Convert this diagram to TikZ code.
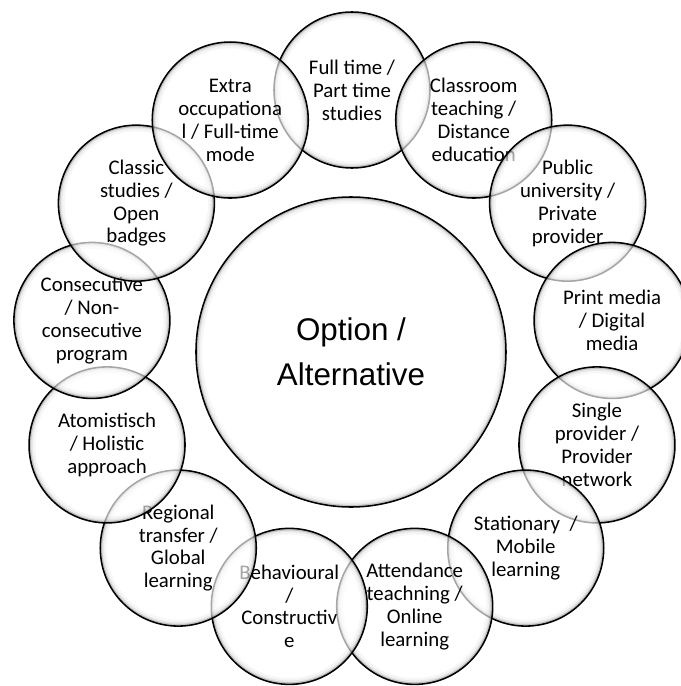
\documentclass[tikz,border=0pt]{standalone}
\usepackage{fontspec}
\setmainfont{Carlito}
\newfontfamily\arialfont{Liberation Sans}

\tikzset{
  glass/.style={circle, draw=black, line width=1.1pt, fill=white, fill opacity=0.65,
    text opacity=1, inner sep=0pt, align=center, minimum size=2*#1*0.025cm,
    path picture={
      \draw[black, opacity=0.16, line width=3pt] (path picture bounding box.center) circle (#1);
      \draw[black, opacity=0.06, line width=5.5pt] (path picture bounding box.center) circle (#1);
      \draw[black, opacity=0.03, line width=9pt] (path picture bounding box.center) circle (#1);
    }},
  optbubble/.style={glass=78, font=\fontsize{14.8}{16.3}\selectfont},
  mainbubble/.style={glass=155, font=\arialfont\fontsize{22.3}{32}\selectfont},
}

\begin{document}
\begin{tikzpicture}[x=0.025cm, y=0.025cm]
\useasboundingbox (-352,-334) rectangle (329,352);
\clip (-352,-334) rectangle (329,352);
% outer ring, clockwise from the top
\node [optbubble] (fulltime) at (90:262) {Full time /\\Part time\\studies};
\node [optbubble] (classroom) at (62.31:262) {Classroom\\teaching /\\Distance\\education};
\node [optbubble] (public) at (34.62:262) {Public\\university /\\Private\\provider};
\node [optbubble] (print) at (6.92:262) {Print media\\/ Digital\\media};
\node [optbubble] (single) at (-20.77:262) {Single\\provider /\\Provider\\network};
\node [optbubble] (stationary) at (-48.46:262) {Stationary\ \ /\\Mobile\\learning};
\node [optbubble] (attendance) at (-76.15:262) {Attendance\\teachning /\\Online\\learning};
\node [optbubble] (behavioural) at (256.15:262) {Behavioural\\/\\Constructiv\\e};
\node [optbubble] (regional) at (228.46:262) {Regional\\transfer /\\Global\\learning};
\node [optbubble] (atomistic) at (200.77:262) {Atomistisch\\/ Holistic\\approach};
\node [optbubble] (consecutive) at (173.08:262) {Consecutive\\/ Non-\\consecutive\\program};
\node [optbubble] (classic) at (145.38:262) {Classic\\studies /\\Open\\badges};
\node [optbubble] (extra) at (117.69:262) {Extra\\occupationa\\l / Full-time\\mode};
% centre
\node [mainbubble] (option) at (-1,0) {Option /\\Alternative};
\end{tikzpicture}
\end{document}
